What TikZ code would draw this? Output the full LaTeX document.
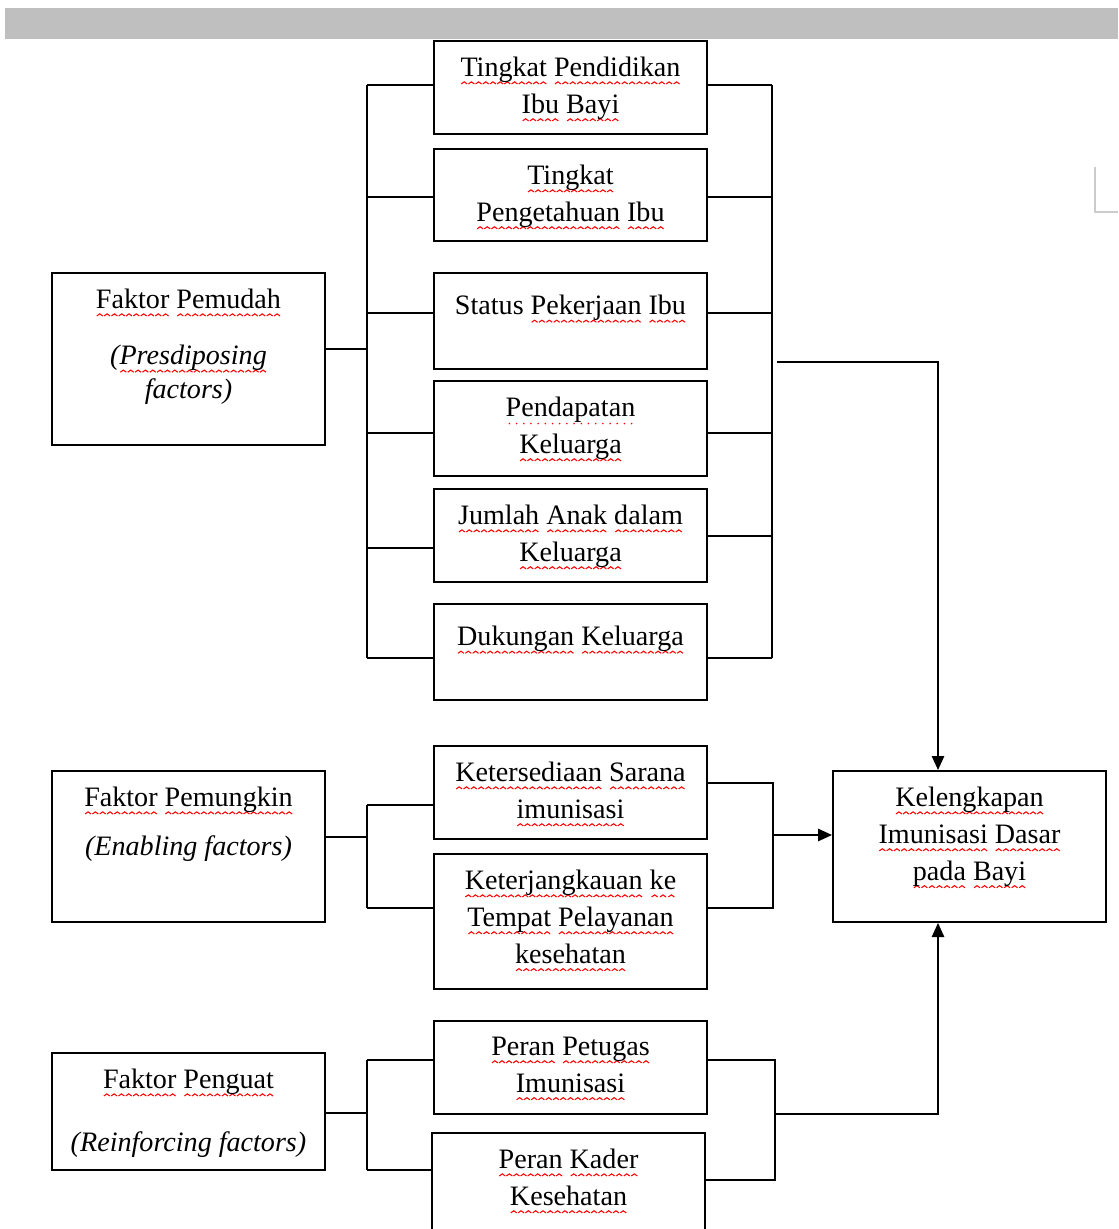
\documentclass[tikz,border=0pt]{standalone}
\usepackage{fontspec}
\setmainfont{Liberation Serif}
\usetikzlibrary{arrows.meta}

% spell-check marks under the words
\newsavebox\wavebox
\newsavebox\dotbox
\newcommand\sq[1]{\setbox0\hbox{#1}\rlap{\lower4.5pt\hbox to\wd0{\xleaders\copy\wavebox\hfill}}\box0\relax}
\newcommand\dq[1]{\setbox0\hbox{#1}\rlap{\lower4.5pt\hbox to\wd0{\xleaders\copy\dotbox\hfill}}\box0\relax}

\tikzset{
  box/.style={draw, line width=1.1pt, minimum width=5.46cm, inner sep=0pt},
  txt/.style={anchor=north, align=center, inner sep=0pt, yshift=-9.5pt,
    font=\fontsize{16}{21}\selectfont, execute at begin node=\strut},
  conn/.style={line width=1.1pt},
  arr/.style={line width=1.1pt, -{Triangle[length=8pt,width=7pt]}},
}

\begin{document}
\sbox\wavebox{\begin{pgfpicture}\pgfsetlinewidth{0.6pt}\pgfsetstrokecolor{red}%
  \pgfpathmoveto{\pgfpoint{0pt}{0pt}}\pgfpathlineto{\pgfpoint{1.7pt}{1.2pt}}\pgfpathlineto{\pgfpoint{3.4pt}{0pt}}%
  \pgfusepath{stroke}\end{pgfpicture}}%
\sbox\dotbox{\begin{pgfpicture}\pgfsetfillcolor{red}%
  \pgfpathrectangle{\pgfpoint{0pt}{0pt}}{\pgfpoint{4pt}{1pt}}\pgfusepath{use as bounding box}%
  \pgfpathcircle{\pgfpoint{2pt}{0.5pt}}{0.5pt}\pgfusepath{fill}\end{pgfpicture}}%
\begin{tikzpicture}[x=0.02cm, y=-0.02cm]
        \useasboundingbox (0,0) rectangle (1118,1229);
        \clip (0,0) rectangle (1118,1229);
        \fill[black!25] (5,8) rectangle (1118,39);
        \draw[black!20, line width=1pt] (1095,167) -- (1095,212) -- (1118,212);

        % left boxes
        \node[box, minimum height=3.44cm] (f1) at (188.5,359) {};
        \node[box, minimum height=3.02cm] (f2) at (188.5,846.5) {};
        \node[box, minimum height=2.34cm] (f3) at (188.5,1111.5) {};
        \node[txt] (tf1) at (f1.north) {\sq{Faktor} \sq{Pemudah}\\[11pt]\textit{(\sq{Presdiposing}}\\[-2pt]\textit{factors)}};
        \node[txt] (tf2) at (f2.north) {\sq{Faktor} \sq{Pemungkin}\\[7pt]\textit{(Enabling factors)}};
        \node[txt] (tf3) at (f3.north) {\sq{Faktor} \sq{Penguat}\\[15pt]\textit{(Reinforcing factors)}};

        % middle boxes
        \node[box, minimum height=1.86cm] (b1) at (570.5,87.5) {};
        \node[box, minimum height=1.84cm] (b2) at (570.5,195) {};
        \node[box, minimum height=1.92cm] (b3) at (570.5,321) {};
        \node[box, minimum height=1.90cm] (b4) at (570.5,428.5) {};
        \node[box, minimum height=1.86cm] (b5) at (570.5,535.5) {};
        \node[box, minimum height=1.92cm] (b6) at (570.5,652) {};
        \node[box, minimum height=1.86cm] (b7) at (570.5,792.5) {};
        \node[box, minimum height=2.70cm] (b8) at (570.5,921.5) {};
        \node[box, minimum height=1.86cm] (b9) at (570.5,1067.5) {};
        \node[box, minimum height=2.40cm] (b10) at (568.5,1193) {};
        \node[txt] (tb1) at (b1.north) {\sq{Tingkat} \sq{Pendidikan}\\\sq{Ibu} \sq{Bayi}};
        \node[txt] (tb2) at (b2.north) {\sq{Tingkat}\\\sq{Pengetahuan} \sq{Ibu}};
        \node[txt] (tb3) at (b3.north) {Status \sq{Pekerjaan} \sq{Ibu}};
        \node[txt] (tb4) at (b4.north) {\dq{Pendapatan}\\\sq{Keluarga}};
        \node[txt] (tb5) at (b5.north) {\sq{Jumlah} \sq{Anak} \sq{dalam}\\\sq{Keluarga}};
        \node[txt] (tb6) at (b6.north) {\sq{Dukungan} \sq{Keluarga}};
        \node[txt] (tb7) at (b7.north) {\sq{Ketersediaan} \sq{Sarana}\\\sq{imunisasi}};
        \node[txt] (tb8) at (b8.north) {\sq{Keterjangkauan} \sq{ke}\\\sq{Tempat} \sq{Pelayanan}\\\sq{kesehatan}};
        \node[txt] (tb9) at (b9.north) {\sq{Peran} \sq{Petugas}\\\sq{Imunisasi}};
        \node[txt] (tb10) at (b10.north) {\sq{Peran} \sq{Kader}\\\sq{Kesehatan}};

        % result box
        \node[box, minimum height=3.02cm] (k) at (969.5,846.5) {};
        \node[txt] (tk) at (k.north) {\sq{Kelengkapan}\\\sq{Imunisasi} \sq{Dasar}\\\sq{pada} \sq{Bayi}};
        \coordinate (kin) at (938,0);

        % predisposing group
        \coordinate (la0) at (367,349);
        \coordinate (la1) at (367,85);
        \coordinate (la2) at (367,197);
        \coordinate (la3) at (367,313);
        \coordinate (la4) at (367,433);
        \coordinate (la5) at (367,548);
        \coordinate (la6) at (367,658);
        \coordinate (ra1) at (772,85);
        \coordinate (ra2) at (772,197);
        \coordinate (ra3) at (772,313);
        \coordinate (ra4) at (772,433);
        \coordinate (ra5) at (772,536);
        \coordinate (ra6) at (772,658);
        \coordinate (rao) at (777,362);
        \draw[conn] (la0 -| f1.east) -- (la0);
        \draw[conn] (la1) -- (la6);
        \draw[conn] (ra1) -- (ra6);
        \draw[conn] (la1) -- (la1 -| b1.west);
        \draw[conn] (la2) -- (la2 -| b2.west);
        \draw[conn] (la3) -- (la3 -| b3.west);
        \draw[conn] (la4) -- (la4 -| b4.west);
        \draw[conn] (la5) -- (la5 -| b5.west);
        \draw[conn] (la6) -- (la6 -| b6.west);
        \draw[conn] (ra1 -| b1.east) -- (ra1);
        \draw[conn] (ra2 -| b2.east) -- (ra2);
        \draw[conn] (ra3 -| b3.east) -- (ra3);
        \draw[conn] (ra4 -| b4.east) -- (ra4);
        \draw[conn] (ra5 -| b5.east) -- (ra5);
        \draw[conn] (ra6 -| b6.east) -- (ra6);
        \draw[arr] (rao) -| (kin |- k.north);

        % enabling group
        \coordinate (lb0) at (367,837);
        \coordinate (lb1) at (367,805);
        \coordinate (lb2) at (367,908);
        \coordinate (rb1) at (773,783);
        \coordinate (rb2) at (773,908);
        \coordinate (rbo) at (773,835);
        \draw[conn] (lb0 -| f2.east) -- (lb0);
        \draw[conn] (lb1) -- (lb2);
        \draw[conn] (lb1) -- (lb1 -| b7.west);
        \draw[conn] (lb2) -- (lb2 -| b8.west);
        \draw[conn] (rb1 -| b7.east) -- (rb1) -- (rb2) -- (rb2 -| b8.east);
        \draw[arr] (rbo) -- (rbo -| k.west);

        % reinforcing group
        \coordinate (lc0) at (367,1113);
        \coordinate (lc1) at (367,1060);
        \coordinate (lc2) at (367,1170);
        \coordinate (rc1) at (775,1060);
        \coordinate (rc2) at (775,1180);
        \coordinate (rco) at (775,1114);
        \draw[conn] (lc0 -| f3.east) -- (lc0);
        \draw[conn] (lc1) -- (lc2);
        \draw[conn] (lc1) -- (lc1 -| b9.west);
        \draw[conn] (lc2) -- (lc2 -| b10.west);
        \draw[conn] (rc1 -| b9.east) -- (rc1) -- (rc2) -- (rc2 -| b10.east);
        \draw[arr] (rco) -| (kin |- k.south);
\end{tikzpicture}
\end{document}
